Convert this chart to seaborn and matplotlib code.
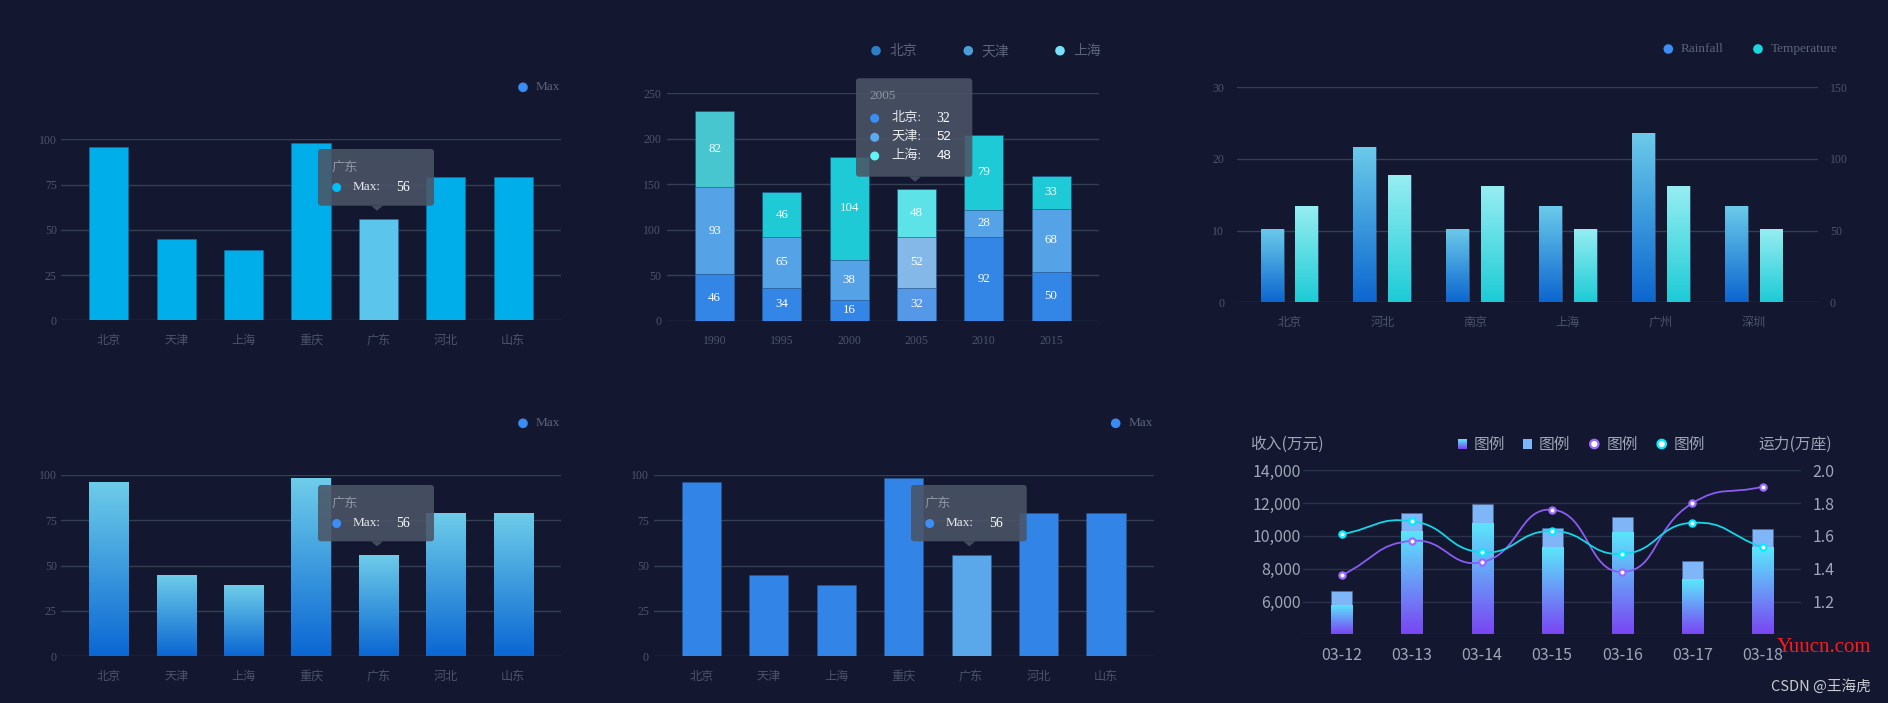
import numpy as np
import pandas as pd
import matplotlib
matplotlib.use("Agg")
import matplotlib.pyplot as plt
import seaborn as sns
from matplotlib.colors import LinearSegmentedColormap
from matplotlib.patches import FancyBboxPatch, Polygon, Circle, Rectangle, PathPatch
from matplotlib.path import Path

# ---------------- data ----------------
provinces = ['北京', '天津', '上海', '重庆', '广东', '河北', '山东']
max_values = [96, 45, 39, 98, 56, 79, 79]
hover_index = 4
hover_label = '广东'
hover_value = '56'

years = ['1990', '1995', '2000', '2005', '2010', '2015']
beijing = [51, 36, 23, 36, 92, 54]
tianjin = [96, 56, 44, 56, 30, 69]
shanghai = [83, 49, 113, 53, 82, 36]
beijing_labels = ['46', '34', '16', '32', '92', '50']
tianjin_labels = ['93', '65', '38', '52', '28', '68']
shanghai_labels = ['82', '46', '104', '48', '79', '33']
stack_series = ['北京', '天津', '上海']
tooltip_year = '2005'
tooltip_values = ['32', '52', '48']

cities = ['北京', '河北', '南京', '上海', '广州', '深圳']
rainfall = [10.2, 21.7, 10.2, 13.4, 23.6, 13.4]
temperature = [67, 89, 81, 51, 81, 51]

dates = ['03-12', '03-13', '03-14', '03-15', '03-16', '03-17', '03-18']
income_a = [5800, 10300, 10800, 9350, 10250, 7350, 9300]
income_b = [6650, 11400, 11950, 10500, 11150, 8500, 10400]
capacity_a = [1.36, 1.57, 1.44, 1.76, 1.38, 1.80, 1.90]
capacity_b = [1.61, 1.69, 1.50, 1.63, 1.49, 1.68, 1.53]

# ---------------- style ----------------
BG = '#131830'
GRID = '#363e52'
TICK = '#4c546a'
LEG = '#5c6479'
TIP = '#4b5566'
SERIF = ['Liberation Serif', 'Noto Sans CJK SC', 'DejaVu Sans']
SANS = ['Noto Sans CJK SC', 'DejaVu Sans']

sns.set_theme(style='dark', rc={'figure.facecolor': BG, 'axes.facecolor': BG,
                                'savefig.facecolor': BG})
plt.rcParams['font.family'] = SERIF
plt.rcParams['axes.unicode_minus'] = False

W, H = 1888, 703
fig = plt.figure(figsize=(W / 100, H / 100), dpi=100, facecolor=BG)


def panel(x0, x1, yt, yb):
    return fig.add_axes([x0 / W, 1 - yb / H, (x1 - x0) / W, (yb - yt) / H])


def style_cat(ax, cats, yticks, ylim, xlim, ypad, xpad, fs=8.5, family=SERIF,
              color=TICK, grid=GRID, ylabels=None, xfs=None):
    ax.set_xlim(*xlim)
    ax.set_ylim(*ylim)
    ax.set_xticks(range(len(cats)), cats, fontsize=xfs or fs, fontfamily=family, color=color)
    if ylabels is None:
        ylabels = [str(t) for t in yticks]
    ax.set_yticks(yticks, ylabels, fontsize=fs, fontfamily=family, color=color)
    ax.tick_params(axis='both', length=0)
    ax.tick_params(axis='x', pad=xpad)
    ax.tick_params(axis='y', pad=ypad)
    ax.grid(axis='y', color=grid, lw=1)
    ax.grid(axis='x', visible=False)
    ax.set_axisbelow(True)
    for s in ax.spines.values():
        s.set_visible(False)
    ax.set_facecolor('none')
    ax.set_xlabel('')
    ax.set_ylabel('')


def gradient_fill(ax, patches, bottom_color, top_color, floor=None):
    cmap = LinearSegmentedColormap.from_list('g', [bottom_color, top_color])
    grad = np.linspace(0, 1, 256).reshape(-1, 1)
    for p in patches:
        x, y, w, h = p.get_x(), p.get_y(), p.get_width(), p.get_height()
        if h <= 0 or np.isnan(h):
            continue
        y0 = y if floor is None else max(y, floor)
        im = ax.imshow(grad, extent=[x, x + w, y0, y + h], origin='lower', aspect='auto',
                       cmap=cmap, zorder=p.get_zorder(), interpolation='bilinear')
        im.set_clip_path(p)
        p.set_facecolor('none')


# ================= Panel 1 : plain bars =================
ax1 = panel(61, 561, 139.3, 320.3)
pal1 = {p: ('#5bc5ec' if i == hover_index else '#00aeea') for i, p in enumerate(provinces)}
sns.barplot(x=provinces, y=max_values, hue=provinces, palette=pal1, saturation=1, width=0.58,
            legend=False, ax=ax1, edgecolor=(0.1, 0.45, 0.65, 0.6), linewidth=0.6)
style_cat(ax1, provinces, [0, 25, 50, 75, 100], (0, 100), (-0.709, 6.709), 3, 10.5, xfs=8.7)

# ================= Panel 4 : gradient bars =================
ax4 = panel(61, 561, 474.7, 656.3)
sns.barplot(x=provinces, y=max_values, color='#3a9be0', saturation=1, width=0.58,
            ax=ax4, edgecolor=(0.15, 0.35, 0.6, 0.6), linewidth=0.6)
gradient_fill(ax4, ax4.patches, '#0b67d3', '#6ecde9')
style_cat(ax4, provinces, [0, 25, 50, 75, 100], (0, 100), (-0.709, 6.709), 3, 10.5, xfs=8.7)

# ================= Panel 5 : solid blue bars =================
ax5 = panel(653.7, 1153.8, 474.7, 656.3)
pal5 = {p: ('#5aa8ea' if i == hover_index else '#3284e6') for i, p in enumerate(provinces)}
sns.barplot(x=provinces, y=max_values, hue=provinces, palette=pal5, saturation=1, width=0.58,
            legend=False, ax=ax5, edgecolor=(0.15, 0.35, 0.6, 0.6), linewidth=0.6)
style_cat(ax5, provinces, [0, 25, 50, 75, 100], (0, 100), (-0.709, 6.709), 3.4, 10.5, xfs=8.7)

# ================= Panel 2 : stacked bars =================
ax2 = panel(666.7, 1099, 93.3, 320.7)
seg1 = np.array(beijing, float)
seg12 = seg1 + np.array(tianjin, float)
total = seg12 + np.array(shanghai, float)
c3 = ['#48c6d0' if y == '1990' else ('#5de2e8' if y == tooltip_year else '#1dcad6') for y in years]
c2 = ['#84b8e8' if y == tooltip_year else '#56a2e6' for y in years]
c1 = ['#5598e8' if y == tooltip_year else '#3385e6' for y in years]
for vals, cols in [(total, c3), (seg12, c2), (seg1, c1)]:
    sns.barplot(x=years, y=vals, hue=years, palette=dict(zip(years, cols)), saturation=1,
                width=0.58, legend=False, ax=ax2, edgecolor=(0.12, 0.3, 0.5, 0.7), linewidth=0.6)
for i in range(len(years)):
    for lab, lo, hi in [(beijing_labels[i], 0, seg1[i]), (tianjin_labels[i], seg1[i], seg12[i]),
                        (shanghai_labels[i], seg12[i], total[i])]:
        ax2.text(i, (lo + hi) / 2, lab, ha='center', va='center', color='white',
                 fontsize=9.3, fontfamily=SERIF, zorder=5)
style_cat(ax2, years, [0, 50, 100, 150, 200, 250], (0, 250), (-0.711, 5.711), 3.9, 10.5, xfs=8.5)

# ================= Panel 3 : dual-axis grouped gradient bars =================
ax3 = panel(1236.7, 1818.3, 87.3, 302.3)
df3 = pd.DataFrame({'city': cities * 2,
                    'series': ['Rainfall'] * len(cities) + ['Temperature'] * len(cities),
                    'value': rainfall + temperature})
left = df3.assign(value=df3['value'].where(df3['series'] == 'Rainfall'))
right = df3.assign(value=df3['value'].where(df3['series'] == 'Temperature'))
common = dict(x='city', y='value', hue='series', hue_order=['Rainfall', 'Temperature'],
              order=cities, dodge=True, width=0.75, gap=0.34, saturation=1, legend=False,
              errorbar=None, palette={'Rainfall': '#3a9be0', 'Temperature': '#5adbe6'},
              edgecolor=(0.4, 0.6, 0.8, 0.5), linewidth=0.6)
sns.barplot(data=left, ax=ax3, **common)
gradient_fill(ax3, list(ax3.patches), '#0c66d0', '#6ccbea')
ax3b = ax3.twinx()
sns.barplot(data=right, ax=ax3b, **common)
gradient_fill(ax3b, list(ax3b.patches), '#1ccbd6', '#98eef2')
style_cat(ax3, cities, [0, 10, 20, 30], (0, 30), (-0.568, 5.697), 9, 10.5, fs=8.5, xfs=8.7)
ax3b.set_ylim(0, 150)
ax3b.set_xlim(-0.568, 5.697)
ax3b.set_yticks([0, 50, 100, 150], ['0', '50', '100', '150'], fontsize=8.5, fontfamily=SERIF, color=TICK)
ax3b.tick_params(axis='y', length=0, pad=8.4)
ax3b.grid(False)
for s in ax3b.spines.values():
    s.set_visible(False)
ax3b.set_ylabel('')
ax3b.set_xlabel('')

# ================= Panel 6 : bars + smooth lines =================
ax6 = panel(1303.3, 1800.7, 470.3, 634.3)
sns.barplot(x=dates, y=income_b, color='#7eb6f8', saturation=1, width=0.3, ax=ax6,
            edgecolor=(0.3, 0.4, 0.6, 0.8), linewidth=0.7)
n_b = len(ax6.patches)
sns.barplot(x=dates, y=income_a, color='#6a96f7', saturation=1, width=0.3, ax=ax6,
            edgecolor=(0.3, 0.42, 0.62, 0.8), linewidth=0.7)
gradient_fill(ax6, ax6.patches[n_b:], '#7a45f3', '#5ae8fb', floor=4000)
yt6 = [4000, 6000, 8000, 10000, 12000, 14000]
style_cat(ax6, dates, yt6, (4000, 14000), (-0.549, 6.543), 1.5, 9.5, fs=11.5, family=SANS,
          color='#9ea6b6', grid='#29334c', ylabels=[''] + [f'{v:,}' for v in yt6[1:]], xfs=11.5)

ax6b = ax6.twinx()
ax6b.set_ylim(1.0, 2.0)
ax6b.set_xlim(-0.549, 6.543)
PURPLE = '#8a5cf0'
CYAN = '#14d6e6'
pos = np.arange(len(dates))


def smooth_path(ax, xs, ys, s=0.5):
    pts = ax.transData.transform(np.column_stack([xs, ys]))
    n = len(pts)
    cin = np.zeros_like(pts)
    cout = np.zeros_like(pts)
    for i in range(n):
        p = pts[i]
        prev = pts[i - 1] if i > 0 else p
        nxt = pts[i + 1] if i < n - 1 else p
        v = nxt - prev
        l0 = np.hypot(*(p - prev))
        l1 = np.hypot(*(nxt - p))
        r = l1 / (l0 + l1) if (l0 + l1) > 0 else 0.5
        cin[i] = p - v * s * (1 - r)
        cout[i] = p + v * s * r
    verts = [pts[0]]
    codes = [Path.MOVETO]
    for i in range(n - 1):
        verts += [cout[i], cin[i + 1], pts[i + 1]]
        codes += [Path.CURVE4] * 3
    verts = ax.transData.inverted().transform(np.array(verts))
    return Path(verts, codes)


for vals, col, ring in [(capacity_a, PURPLE, '#9b6bff'), (capacity_b, CYAN, '#00eeff')]:
    ax6b.add_patch(PathPatch(smooth_path(ax6b, pos, vals), fill=False, edgecolor=col, lw=1.3, zorder=3))
    sns.scatterplot(x=pos, y=vals, ax=ax6b, s=20, color='white', edgecolor=ring,
                    linewidth=1.6, zorder=5, legend=False)
ax6b.set_xlim(-0.549, 6.543)
ax6b.set_ylim(1.0, 2.0)
yr = [1.0, 1.2, 1.4, 1.6, 1.8, 2.0]
ax6b.set_yticks(yr, [''] + [f'{v:.1f}' for v in yr[1:]], fontsize=11.5, fontfamily=SANS, color='#9ea6b6')
ax6b.tick_params(axis='y', length=0, pad=8.5)
ax6b.grid(False)
for s in ax6b.spines.values():
    s.set_visible(False)
ax6b.set_ylabel('')
ax6b.set_xlabel('')

# ================= overlay: legends, tooltips, titles =================
ov = fig.add_axes([0, 0, 1, 1])
ov.set_zorder(20)
ov.axis('off')


def dot(x, y, c, r=4.8):
    ov.add_patch(Circle((x, y), r, color=c, lw=0))


def txt(x, y, s, c=LEG, fs=9.5, fam=SERIF, ha='left', **kw):
    ov.text(x, y, s, color=c, fontsize=fs, fontfamily=fam, ha=ha, va='center', **kw)


def tooltip(x0, y0, x1, y1, ax_):
    ov.add_patch(FancyBboxPatch((x0, y0), x1 - x0, y1 - y0,
                                boxstyle='round,pad=0,rounding_size=3', fc=TIP, ec='none', alpha=0.88))
    ov.add_patch(Polygon([[ax_ - 6, y1], [ax_ + 6, y1], [ax_, y1 + 5]], closed=True,
                         fc=TIP, ec='none', alpha=0.88))


# legends (panels 1,4,5)
for (lx, ly) in [(523, 87.3), (523, 423.3), (1115.7, 423.3)]:
    dot(lx, ly, '#3a8cf5')
    txt(lx + 12.5, ly, 'Max')

# legend panel 2
for lx, name, c in [(876, stack_series[0], '#2a7fc5'), (968.3, stack_series[1], '#4b9fd9'),
                    (1060, stack_series[2], '#78e1f7')]:
    dot(lx, 50.7, c)
    txt(lx + 13.3, 51.5, name, fs=10)

# legend panel 3
dot(1668.3, 49, '#3a8ef6')
txt(1680.7, 49, 'Rainfall')
dot(1758, 49, '#1ad6e0')
txt(1770.7, 49, 'Temperature')

# tooltips panels 1,4,5
for (bx0, by0, bx1, by1, arx, dc) in [(318, 149, 434, 205.7, 377, '#00bef8'),
                                       (318, 485, 434, 541.3, 377, '#3a8ef6'),
                                       (911, 485, 1026.7, 541.3, 969.3, '#3a8ef6')]:
    tooltip(bx0, by0, bx1, by1, arx)
    txt(bx0 + 13.7, by0 + 19, hover_label, c='#8e96a3', fs=9.5)
    dot(bx0 + 18.7, by0 + 38.5, dc, r=4.5)
    txt(bx0 + 35, by0 + 38.5, 'Max:', c='#e6e8ec', fs=9.5)
    txt(bx0 + 78, by0 + 38.5, hover_value, c='white', fs=10)

# tooltip panel 2
tooltip(856, 78.3, 972.3, 176.7, 915)
txt(869.3, 95.7, tooltip_year, c='#8e96a3', fs=9.5)
for k, (yy, c) in enumerate(zip([118.3, 137.3, 156], ['#3a8ef6', '#5aaaf0', '#5ff5f5'])):
    dot(874.7, yy, c, r=4.5)
    txt(891.7, yy, stack_series[k] + ':', c='#e6e8ec', fs=9.5)
    txt(936.7, yy, tooltip_values[k], c='white', fs=10 if k == 0 else 9.5,
        fam=SERIF if k == 0 else ['Liberation Sans', 'DejaVu Sans'])

# panel 6 titles and legend
txt(1250, 444, '收入(万元)', c='#9ea6b6', fs=11.3, fam=SANS)
txt(1832, 444, '运力(万座)', c='#9ea6b6', fs=11.3, fam=SANS, ha='right')
grad_img = np.linspace(1, 0, 64).reshape(-1, 1)
gcm = LinearSegmentedColormap.from_list('lg', ['#7a45f3', '#5ae8fb'])
ov.imshow(grad_img, extent=(1458.3, 1466.7, 449, 439), origin='upper', aspect='auto', cmap=gcm, zorder=2)
txt(1474, 444, '图例', c='#9ea6b6', fs=11.3, fam=SANS)
ov.add_patch(Rectangle((1523.3, 439), 8.4, 10, color='#7eb6f8', lw=0))
txt(1539, 444, '图例', c='#9ea6b6', fs=11.3, fam=SANS)
ov.add_patch(Circle((1594.3, 444), 4.2, fc='white', ec='#9b6bff', lw=1.6))
txt(1606.7, 444, '图例', c='#9ea6b6', fs=11.3, fam=SANS)
ov.add_patch(Circle((1661.7, 444), 4.2, fc='white', ec='#00eeff', lw=1.6))
txt(1673.3, 444, '图例', c='#9ea6b6', fs=11.3, fam=SANS)

# watermarks
txt(1777, 648, 'Yuucn.com', c='#ff1a1a', fs=15, fam=SERIF)
txt(1771, 686.7, 'CSDN @王海虎', c='#c9ccd3', fs=10.5, fam=SANS)

ov.set_xlim(0, W)
ov.set_ylim(H, 0)

fig.savefig('out.png', dpi=100, facecolor=BG)
